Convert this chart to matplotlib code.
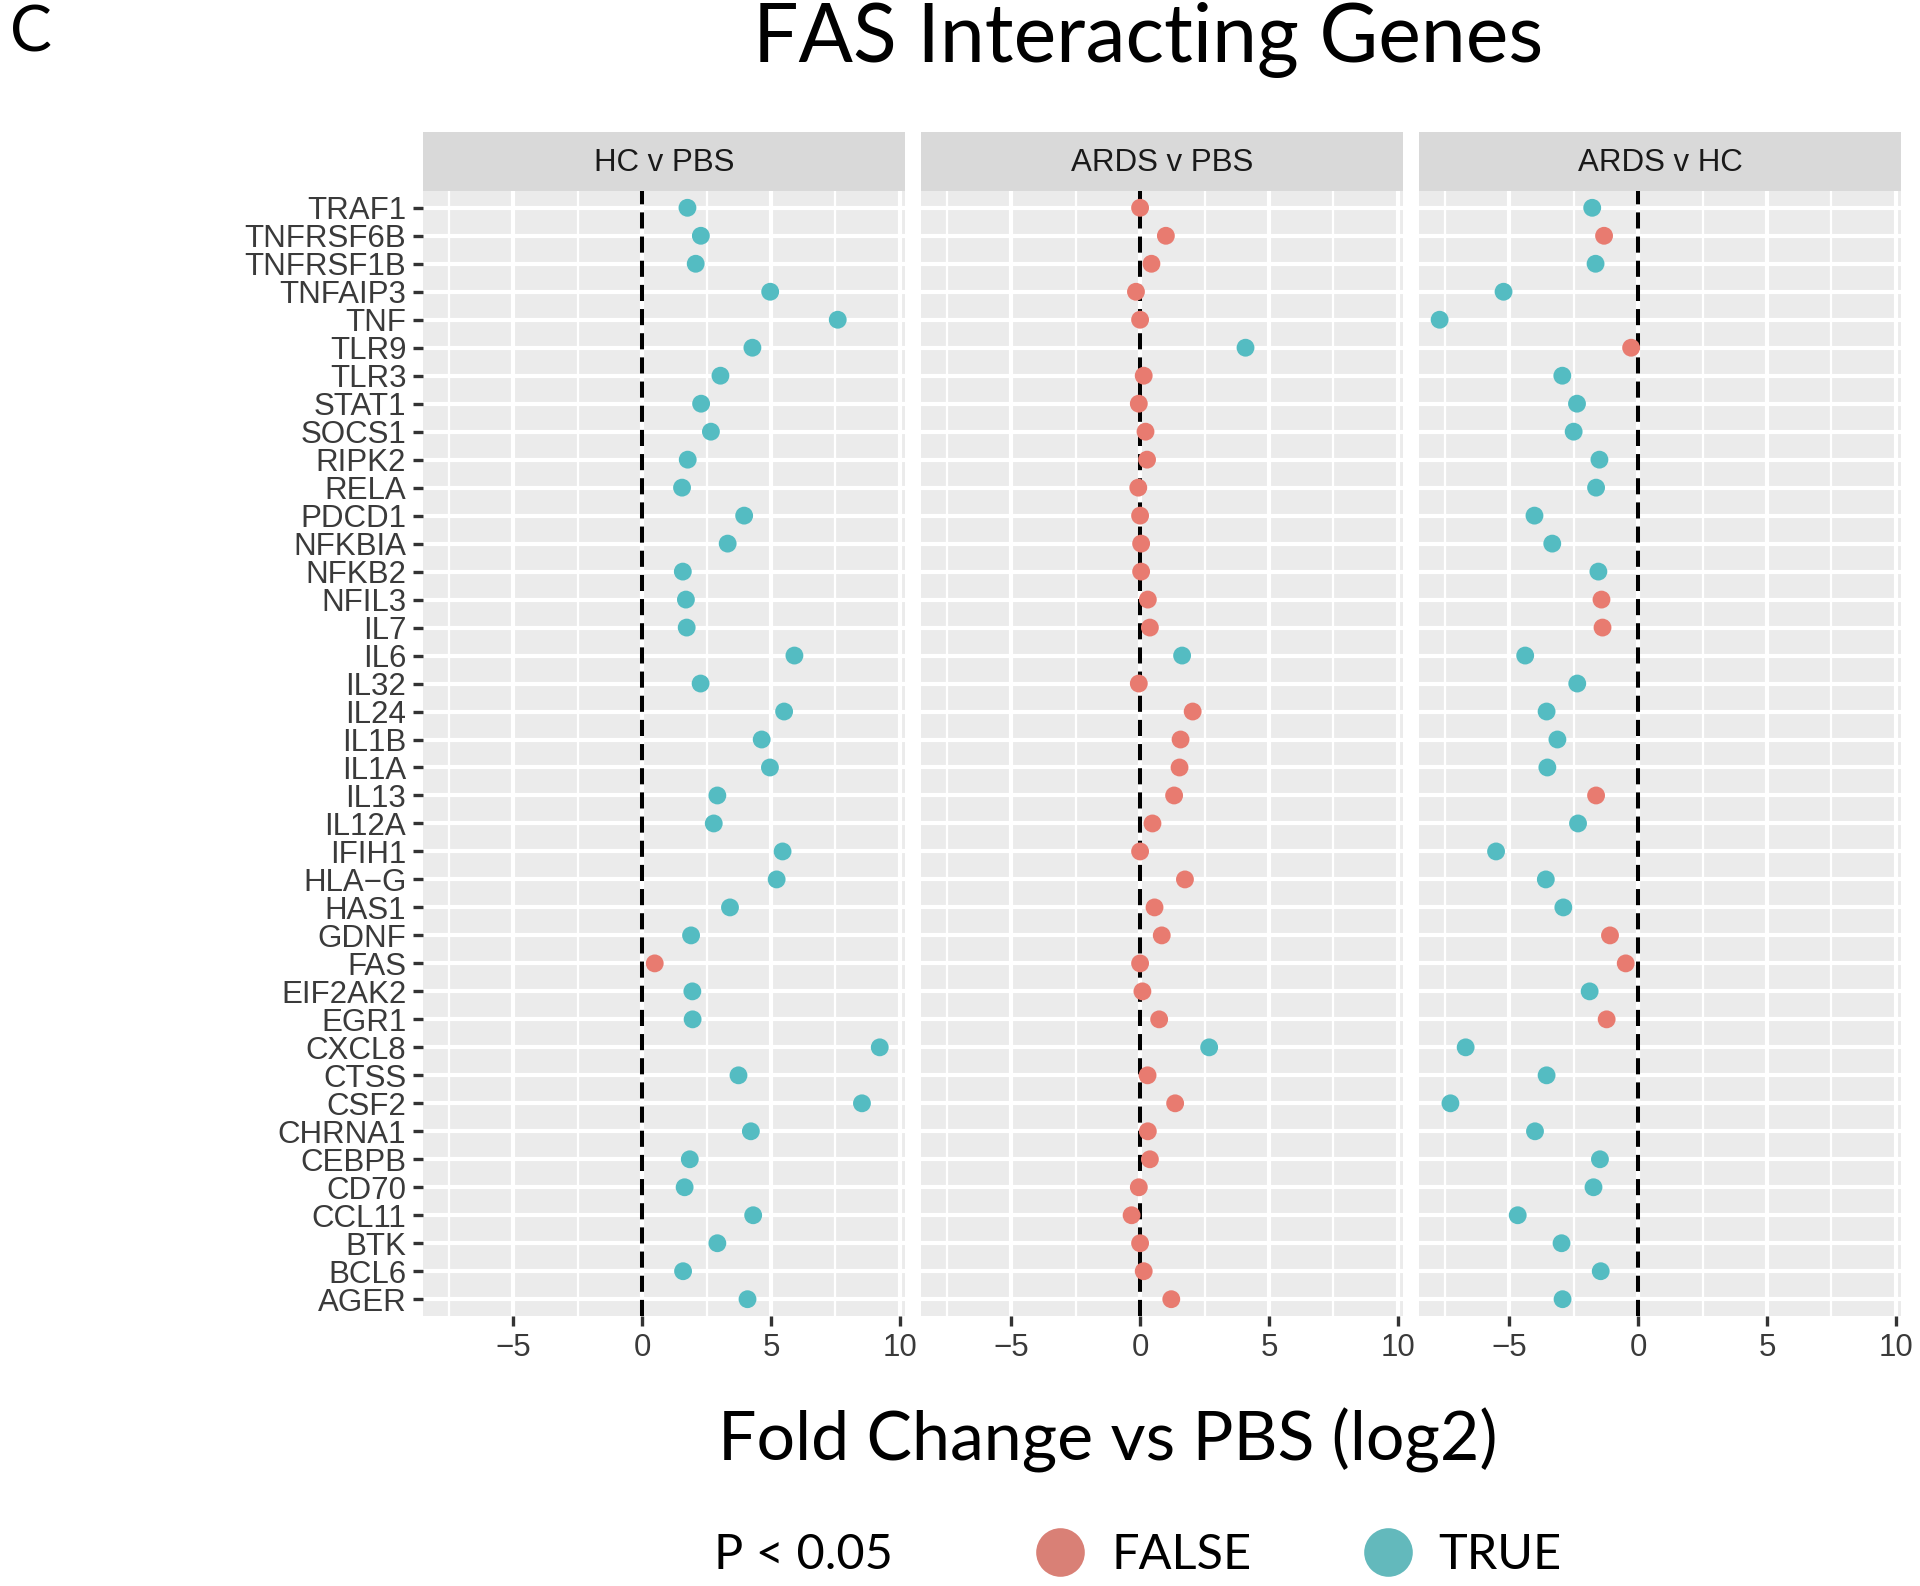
import numpy as np
import matplotlib
matplotlib.use('Agg')
import matplotlib.pyplot as plt
from matplotlib.lines import Line2D

# genes, top to bottom as drawn
genes = ['TRAF1', 'TNFRSF6B', 'TNFRSF1B', 'TNFAIP3', 'TNF', 'TLR9', 'TLR3',
         'STAT1', 'SOCS1', 'RIPK2', 'RELA', 'PDCD1', 'NFKBIA', 'NFKB2',
         'NFIL3', 'IL7', 'IL6', 'IL32', 'IL24', 'IL1B', 'IL1A', 'IL13',
         'IL12A', 'IFIH1', 'HLA\u2212G', 'HAS1', 'GDNF', 'FAS', 'EIF2AK2',
         'EGR1', 'CXCL8', 'CTSS', 'CSF2', 'CHRNA1', 'CEBPB', 'CD70', 'CCL11',
         'BTK', 'BCL6', 'AGER']

comparisons = ['HC v PBS', 'ARDS v PBS', 'ARDS v HC']

hc_pbs = [1.76, 2.28, 2.08, 4.97, 7.59, 4.28, 3.04, 2.29, 2.67, 1.77,
          1.55, 3.96, 3.32, 1.58, 1.70, 1.73, 5.91, 2.27, 5.51, 4.64,
          4.96, 2.92, 2.78, 5.45, 5.22, 3.41, 1.90, 0.49, 1.95, 1.96,
          9.22, 3.74, 8.53, 4.22, 1.85, 1.65, 4.31, 2.92, 1.59, 4.09]
hc_pbs_sig = [True] * 27 + [False] + [True] * 12

ards_pbs = [0.00, 1.00, 0.44, -0.16, 0.00, 4.09, 0.14, -0.05, 0.21, 0.27,
            -0.07, 0.00, 0.04, 0.04, 0.30, 0.38, 1.63, -0.05, 2.04, 1.57,
            1.53, 1.32, 0.48, 0.00, 1.74, 0.56, 0.84, 0.00, 0.09, 0.74,
            2.68, 0.29, 1.36, 0.30, 0.38, -0.05, -0.33, 0.00, 0.14, 1.21]
ards_pbs_sig = [False] * 40
for g in ['TLR9', 'IL6', 'CXCL8']:
    ards_pbs_sig[genes.index(g)] = True

ards_hc = [-1.78, -1.32, -1.65, -5.22, -7.70, -0.27, -2.94, -2.37, -2.50, -1.50,
           -1.63, -4.02, -3.33, -1.54, -1.42, -1.38, -4.38, -2.36, -3.55, -3.13,
           -3.52, -1.63, -2.33, -5.51, -3.58, -2.90, -1.09, -0.48, -1.88, -1.22,
           -6.69, -3.55, -7.28, -4.00, -1.48, -1.73, -4.67, -2.97, -1.45, -2.93]
ards_hc_sig = [True] * 40
for g in ['TNFRSF6B', 'TLR9', 'NFIL3', 'IL7', 'IL13', 'GDNF', 'FAS', 'EGR1']:
    ards_hc_sig[genes.index(g)] = False

values = [hc_pbs, ards_pbs, ards_hc]
signif = [hc_pbs_sig, ards_pbs_sig, ards_hc_sig]

COL_FALSE = '#E87B70'
COL_TRUE = '#54BCC2'
LAB_FONT = 'Liberation Sans'
BIG_FONT = 'Lato'
LAB_SIZE = 22.5

W, H = 1920, 1586
fig = plt.figure(figsize=(W / 100, H / 100), dpi=100)

def fx(px):
    return px / W

def fy(py):
    return 1 - py / H

panel_w = 482
gap = 16
left0 = 423
top, bottom = 191, 1316
strip_top = 132

y = np.arange(len(genes))[::-1]

for i, comp in enumerate(comparisons):
    left = left0 + i * (panel_w + gap)
    ax = fig.add_axes([fx(left), fy(bottom), panel_w / W, (bottom - top) / H])
    ax.set_facecolor('#EBEBEB')
    ax.set_xlim(-8.5, 10.2)
    ax.set_ylim(-0.6, len(genes) - 0.4)
    ax.set_xticks([-5, 0, 5, 10])
    ax.set_xticklabels(['\u22125', '0', '5', '10'])
    ax.set_xticks([-7.5, -2.5, 2.5, 7.5], minor=True)
    ax.set_yticks(y)
    if i == 0:
        ax.set_yticklabels(genes)
    else:
        ax.set_yticklabels([])
    ax.grid(True, which='major', color='white', lw=3.0)
    ax.grid(True, which='minor', axis='x', color='white', lw=1.6)
    ax.set_axisbelow(True)
    for s in ax.spines.values():
        s.set_visible(False)
    ax.tick_params(axis='both', which='major', color='#333333', width=2.4,
                   length=7, labelsize=LAB_SIZE, labelcolor='#3A3A3A', pad=5)
    ax.tick_params(axis='x', which='minor', length=0)
    if i > 0:
        ax.tick_params(axis='y', length=0)
    for lab in ax.get_xticklabels() + ax.get_yticklabels():
        lab.set_family(LAB_FONT)

    ax.axvline(0, color='black', lw=2.9, ls=(0, (4, 2)), zorder=2)
    cols = [COL_TRUE if s else COL_FALSE for s in signif[i]]
    ax.scatter(values[i], y, c=cols, s=165, linewidths=0, zorder=3)

    sax = fig.add_axes([fx(left), fy(top), panel_w / W, (top - strip_top) / H])
    sax.set_facecolor('#D9D9D9')
    sax.set_xticks([])
    sax.set_yticks([])
    for s in sax.spines.values():
        s.set_visible(False)
    sax.text(0.5, 0.47, comp, ha='center', va='center', fontsize=LAB_SIZE,
             color='#1A1A1A', family=LAB_FONT, transform=sax.transAxes)

fig.text(fx(10), fy(33), 'C', fontsize=45, family=BIG_FONT, ha='left', va='center')
fig.text(fx(1148), fy(40), 'FAS Interacting Genes', fontsize=58, family=BIG_FONT,
         ha='center', va='center')
fig.text(fx(1108), fy(1440), 'Fold Change vs PBS (log2)', fontsize=49,
         family=BIG_FONT, ha='center', va='center')

fig.text(fx(714), fy(1555), 'P < 0.05', fontsize=35, family=BIG_FONT,
         ha='left', va='center')
handles = [Line2D([], [], ls='none', marker='o', ms=35, mew=0, color='#D98076'),
           Line2D([], [], ls='none', marker='o', ms=35, mew=0, color='#63B9BC')]
fig.legend(handles, ['FALSE', 'TRUE'], loc='center left',
           bbox_to_anchor=(fx(1036), fy(1555)), ncol=2, frameon=False,
           handlelength=1.0, handletextpad=0.55, columnspacing=2.3,
           borderpad=0, borderaxespad=0,
           prop={'family': BIG_FONT, 'size': 35})

fig.savefig('out.png', dpi=100)
